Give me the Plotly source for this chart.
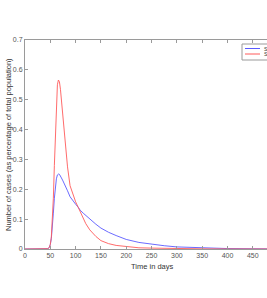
import plotly.graph_objects as go

days = [0, 40, 45, 48, 50, 52, 54, 56, 58, 60, 62, 64, 66, 68, 70, 72, 75, 79, 84, 89,
        95, 100, 105, 109, 115, 120, 128, 140, 150, 165, 180, 200, 225, 250, 275, 300,
        350, 400, 450, 500]
series_a = [0, 0, 0.001, 0.005, 0.015, 0.035, 0.07, 0.12, 0.17, 0.21, 0.235, 0.248, 0.251,
            0.25, 0.245, 0.238, 0.228, 0.215, 0.195, 0.175, 0.16, 0.15, 0.14, 0.13, 0.12,
            0.112, 0.10, 0.083, 0.07, 0.056, 0.045, 0.032, 0.022, 0.016, 0.011, 0.007,
            0.003, 0.0015, 0.0008, 0.0004]
series_b = [0, 0, 0.001, 0.005, 0.015, 0.04, 0.09, 0.17, 0.28, 0.40, 0.50, 0.55, 0.566,
            0.56, 0.535, 0.50, 0.43, 0.36, 0.275, 0.212, 0.178, 0.158, 0.14, 0.125, 0.10,
            0.085, 0.064, 0.042, 0.028, 0.018, 0.012, 0.008, 0.004, 0.003, 0.002, 0.001,
            0.0005, 0.0002, 0.0001, 0]
names = ["SIR model", "SEIR model"]
colors = ["#5a5aff", "#ff5a5a"]
x_ticks = [0, 50, 100, 150, 200, 250, 300, 350, 400, 450]
y_ticks = [0, 0.1, 0.2, 0.3, 0.4, 0.5, 0.6, 0.7]
y_labels = ["0", "0.1", "0.2", "0.3", "0.4", "0.5", "0.6", "0.7"]

W, H = 267, 298
ML, MR, MT, MB = 25, 0, 40, 49
PW, PH = W - ML - MR, H - MT - MB

def px_x(p):
    return (p - ML) / PW

def px_y(p):
    return 1 - (p - MT) / PH

fig = go.Figure()
for vals, nm, col in zip([series_a, series_b], names, colors):
    fig.add_trace(go.Scatter(x=days, y=vals, mode="lines", name=nm,
                             line=dict(color=col, width=0.9)))

axis_col = "#9a9a9a"
font = dict(family="Liberation Sans, Arial, sans-serif", size=7, color="#555555")

shapes = [dict(type="rect", xref="paper", yref="paper",
               x0=px_x(242), x1=px_x(290), y0=px_y(60), y1=px_y(44),
               line=dict(color=axis_col, width=1), fillcolor="white", layer="above")]
annotations = [
    dict(text="Time in days", xref="x", yref="paper", x=250, y=-0.055,
         xanchor="center", yanchor="top", showarrow=False,
         font=dict(size=7.5, color="#333333")),
    dict(text="Number of cases (as percentage of total population)", xref="paper",
         yref="paper", x=px_x(8.5), y=0.5, xanchor="center", yanchor="middle",
         textangle=-90, showarrow=False, font=dict(size=7.5, color="#333333")),
]
for i, (nm, col) in enumerate(zip(names, colors)):
    yy = 48.5 + i * 5.5
    shapes.append(dict(type="line", xref="paper", yref="paper",
                       x0=px_x(245), x1=px_x(260), y0=px_y(yy), y1=px_y(yy),
                       line=dict(color=col, width=1), layer="above"))
    annotations.append(dict(text=nm, xref="paper", yref="paper", x=px_x(262),
                            y=px_y(yy), xanchor="left", yanchor="middle",
                            showarrow=False, font=dict(size=5.5, color="#333333")))

fig.update_layout(
    width=W, height=H,
    margin=dict(l=ML, r=MR, t=MT, b=MB, autoexpand=False),
    paper_bgcolor="white", plot_bgcolor="white",
    font=font,
    showlegend=False,
    xaxis=dict(range=[0, 478], tickvals=x_ticks, ticks="inside", ticklen=3,
               tickcolor=axis_col, showline=True, linecolor=axis_col, linewidth=1,
               mirror="ticks", showgrid=False, zeroline=False, tickfont=font,
               automargin=False),
    yaxis=dict(range=[0, 0.7], tickvals=y_ticks, ticktext=y_labels, ticks="inside",
               ticklen=3, tickcolor=axis_col, showline=True, linecolor=axis_col,
               linewidth=1, mirror=False, showgrid=False, zeroline=False, tickfont=font,
               automargin=False),
    shapes=shapes,
    annotations=annotations,
)
fig.write_html(
    "out.html",
    config={"displayModeBar": False},
    post_script="document.body.style.margin='0px';document.body.style.overflow='hidden';",
)
